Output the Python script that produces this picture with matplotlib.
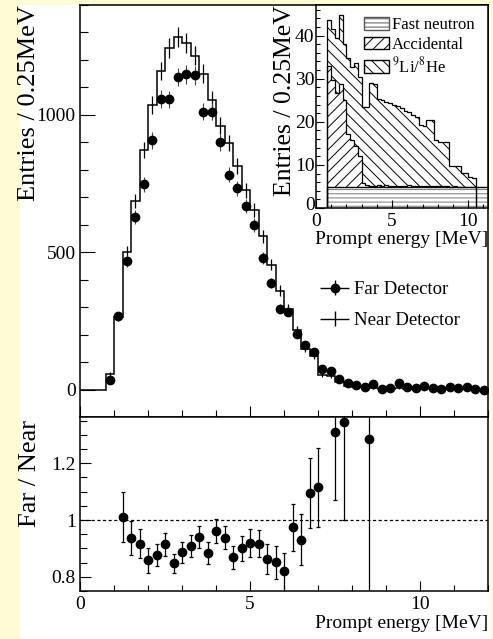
import numpy as np
import matplotlib.pyplot as plt
import matplotlib.transforms as mtransforms
from matplotlib.patches import Patch, Rectangle
from matplotlib.ticker import MultipleLocator
from matplotlib.container import ErrorbarContainer
from matplotlib.legend_handler import HandlerErrorbar

plt.rcParams['font.family'] = ['Liberation Serif', 'DejaVu Serif']
plt.rcParams['mathtext.fontset'] = 'stix'
plt.rcParams['hatch.linewidth'] = 0.7
plt.rcParams['axes.linewidth'] = 1.1

W, H = 493, 639

# near detector, 0.25 MeV bins from 0 to 12 MeV
near_counts = [0, 0, 0, 57, 264, 500, 687, 871, 1036, 1160, 1243, 1283,
               1262, 1216, 1150, 1054, 960, 898, 814, 726, 655, 558, 455, 360,
               293, 217, 149, 122, 52, 50, 28, 14, 10, 8, 4, 3,
               3, 4, 3, 3, 4, 3, 3, 3, 4, 3, 3, 3]
# far detector, bins from 0.75 MeV
far_counts = [36, 267, 468, 629, 748, 907, 1059, 1056, 1138, 1147, 1144, 1012,
              1012, 900, 782, 733, 667, 599, 480, 388, 295, 284, 202, 163,
              136, 74, 66, 37, 24, 16, 11, 20, 2, 6, 23, 11,
              6, 12, 4, 3, 11, 5, 11, 1, 0]

# far / near ratio with error bar ends
ratio_x = [1.25, 1.5, 1.75, 2.0, 2.25, 2.5, 2.75, 3.0, 3.25, 3.5, 3.75, 4.0,
           4.25, 4.5, 4.75, 5.0, 5.25, 5.5, 5.75, 6.0, 6.25, 6.5, 6.75, 7.0,
           7.5, 7.75, 8.5]
ratio = [1.011, 0.936, 0.917, 0.859, 0.876, 0.915, 0.848, 0.889, 0.909, 0.940,
         0.883, 0.961, 0.938, 0.869, 0.900, 0.920, 0.915, 0.862, 0.853, 0.819,
         0.974, 0.929, 1.097, 1.116, 1.309, 1.347, 1.287]
ratio_lo = [0.924, 0.877, 0.868, 0.815, 0.839, 0.874, 0.812, 0.850, 0.871, 0.900,
            0.846, 0.918, 0.897, 0.827, 0.854, 0.871, 0.869, 0.809, 0.794, 0.730,
            0.892, 0.840, 0.973, 0.975, 1.070, 1.000, 0.500]
ratio_hi = [1.099, 0.996, 0.967, 0.902, 0.916, 0.953, 0.882, 0.924, 0.947, 0.979,
            0.922, 1.005, 0.979, 0.910, 0.944, 0.967, 0.965, 0.915, 0.910, 0.883,
            1.055, 1.020, 1.220, 1.255, 1.500, 1.550, 2.000]

# inset backgrounds, 0.25 MeV bins from 0.75 MeV
fast_neutron = 4.8
accidental = [28.2, 24.9, 21.8, 24.0, 20.2, 12.4, 11.0, 9.5, 7.2, 1.1, 0.5, 0.4,
              0.3, 0.6, 0.4, 0.5, 0.3, 0.2, 0.4, 0.3, 0.2, 0.5, 0.2, 0.3,
              0.2, 0.4, 0.2, 0.3, 0.2, 0.2, 0.3, 0.2, 0.1, 0.2, 0.1, 0.1,
              0.0, 0.1, 0.0]
li_he = [10.6, 11.8, 12.8, 16.0, 13.0, 17.5, 17.0, 19.3, 18.5, 17.6, 18.2, 23.7,
         23.6, 20.0, 19.8, 19.4, 19.2, 19.0, 18.4, 18.1, 17.6, 17.0, 16.6, 15.9,
         14.2, 13.8, 15.4, 15.3, 10.8, 10.4, 10.3, 10.4, 4.9, 4.8, 4.9, 3.2,
         3.3, 2.3, 2.2]

fig = plt.figure(figsize=(W / 100, H / 100), dpi=100, facecolor='#fffbd5')
fig.patches.append(Rectangle((20 / W, 0), 470 / W, 1 - 5 / H, transform=fig.transFigure,
                             facecolor='white', edgecolor='none', zorder=-10))

edges = np.arange(0, 12.01, 0.25)
centers = 0.5 * (edges[:-1] + edges[1:])
near = np.array(near_counts, float)
far = np.array(far_counts, float)
far_x = centers[len(near) - len(far):]

# ---- main panel
ax = fig.add_axes([80 / W, 1 - 417 / H, 408 / W, 412 / H])
ax.stairs(near, edges, color='k', lw=1.1)
ok = near > 0
ax.errorbar(centers[ok], near[ok], yerr=np.sqrt(near[ok]), fmt='none', ecolor='k', elinewidth=0.9)
ax.errorbar(far_x, far, yerr=np.sqrt(far), fmt='o', color='k', ms=6, ecolor='#444', elinewidth=0.8)
ax.set_xlim(0, 12)
ax.set_ylim(-100, 1400)
ax.set_xticks([0, 5, 10])
ax.xaxis.set_minor_locator(MultipleLocator(1))
ax.set_yticks([0, 500, 1000])
ax.yaxis.set_minor_locator(MultipleLocator(100))
ax.tick_params(which='both', direction='in', labelsize=14, pad=3, width=0.8, labelbottom=False)
ax.tick_params(axis='y', which='major', length=11)
ax.tick_params(axis='y', which='minor', length=6)
ax.tick_params(axis='x', which='major', length=8)
ax.tick_params(axis='x', which='minor', length=5)

far_h = ax.errorbar([np.nan], [np.nan], xerr=[1], yerr=[1], fmt='o', color='k', ms=6, elinewidth=1)
near_h = ax.errorbar([np.nan], [np.nan], xerr=[1], yerr=[1], fmt='none', ecolor='k', elinewidth=1)
ax.legend([far_h, near_h], ['Far Detector', 'Near Detector'], loc='upper left',
          bbox_to_anchor=(320 / W, 1 - 281 / H), bbox_transform=fig.transFigure,
          frameon=False, fontsize=13.5, handlelength=1.55, handletextpad=0.25,
          borderpad=0, borderaxespad=0, labelspacing=0.75,
          handler_map={ErrorbarContainer: HandlerErrorbar(xerr_size=0.78, yerr_size=0.4)})

# ---- ratio panel
ax2 = fig.add_axes([80 / W, 1 - 591 / H, 408 / W, 174 / H])
ax2.axhline(1, color='k', lw=0.9, ls=(0, (2.5, 2)))
r = np.array(ratio)
ax2.errorbar(ratio_x, r, yerr=[r - np.array(ratio_lo), np.array(ratio_hi) - r], fmt='o', color='k',
             ms=6, capsize=1.5, elinewidth=0.9, capthick=0.9)
ax2.set_xlim(0, 12)
ax2.set_ylim(0.75, 1.363)
ax2.set_xticks([0, 5, 10])
ax2.xaxis.set_minor_locator(MultipleLocator(1))
ax2.set_yticks([0.8, 1.0, 1.2])
ax2.set_yticklabels(['0.8', '1', '1.2'])
ax2.yaxis.set_minor_locator(MultipleLocator(0.05))
ax2.tick_params(which='both', direction='in', labelsize=14, width=0.8)
ax2.tick_params(axis='y', which='major', length=8, pad=3)
ax2.tick_params(axis='y', which='minor', length=5)
ax2.tick_params(axis='x', which='major', length=7, pad=3.5)
ax2.tick_params(axis='x', which='minor', length=4)

# ---- inset
axi = fig.add_axes([316 / W, 1 - 208 / H, 172 / W, 203 / H])
bk_edges = np.arange(0.75, 10.51, 0.25)
fn_edges = np.arange(0.75, 12.01, 0.25)
fn = np.full(len(fn_edges) - 1, fast_neutron)
acc_top = fn[:len(accidental)] + np.array(accidental)
tot_top = acc_top + np.array(li_he)
axi.stairs(fn, fn_edges, baseline=0, fill=True, facecolor='white', edgecolor='#777', hatch='----', lw=0)
axi.stairs(acc_top, bk_edges, baseline=fn[:len(accidental)], fill=True, facecolor='white',
           edgecolor='k', hatch='///', lw=0)
axi.stairs(tot_top, bk_edges, baseline=acc_top, fill=True, facecolor='white',
           edgecolor='k', hatch='\\\\\\', lw=0)
axi.stairs(fn, fn_edges, color='k', lw=1)
axi.stairs(acc_top, bk_edges, color='k', lw=0.9)
axi.stairs(tot_top, bk_edges, color='k', lw=0.9)
axi.set_xlim(0, 11.3)
axi.set_ylim(0, 47.1)
axi.set_xticks([0, 5, 10])
axi.xaxis.set_minor_locator(MultipleLocator(1))
axi.set_yticks([0, 10, 20, 30, 40])
axi.yaxis.set_minor_locator(MultipleLocator(2))
axi.tick_params(which='both', direction='in', labelsize=14, width=0.8, pad=1)
axi.tick_params(axis='x', pad=3.5)
axi.tick_params(which='major', length=6)
axi.tick_params(which='minor', length=3)
# lift the inset's y "0" a little so it does not sit on the x "0"
lift = mtransforms.ScaledTranslation(0, 4 / 100, fig.dpi_scale_trans)
y0_label = axi.yaxis.get_major_ticks()[0].label1
y0_label.set_transform(y0_label.get_transform() + lift)
axi.legend([Patch(facecolor='white', edgecolor='#555', hatch='----'),
            Patch(facecolor='white', edgecolor='k', hatch='///'),
            Patch(facecolor='white', edgecolor='k', hatch='\\\\\\')],
           ['Fast neutron', 'Accidental', r'$^{9}$Li/$^{8}$He'], loc='upper left',
           bbox_to_anchor=(364 / W, 1 - 17 / H), bbox_transform=fig.transFigure,
           frameon=False, fontsize=12, handlelength=1.5, handleheight=0.8,
           handletextpad=0.2, labelspacing=0.2, borderpad=0, borderaxespad=0)

# ---- axis titles
fig.text(29 / W, 1 - 5 / H, 'Entries / 0.25MeV', rotation=90, ha='center', va='top', fontsize=19)
fig.text(30 / W, 1 - 420 / H, 'Far / Near', rotation=90, ha='center', va='top', fontsize=19)
fig.text(285 / W, 1 - 5 / H, 'Entries / 0.25MeV', rotation=90, ha='center', va='top', fontsize=18.5)
fig.text(488 / W, 1 - 240 / H, 'Prompt energy [MeV]', ha='right', va='center', fontsize=14)
fig.text(488 / W, 1 - 623 / H, 'Prompt energy [MeV]', ha='right', va='center', fontsize=14)

fig.savefig('out.png', dpi=100, facecolor=fig.get_facecolor())
